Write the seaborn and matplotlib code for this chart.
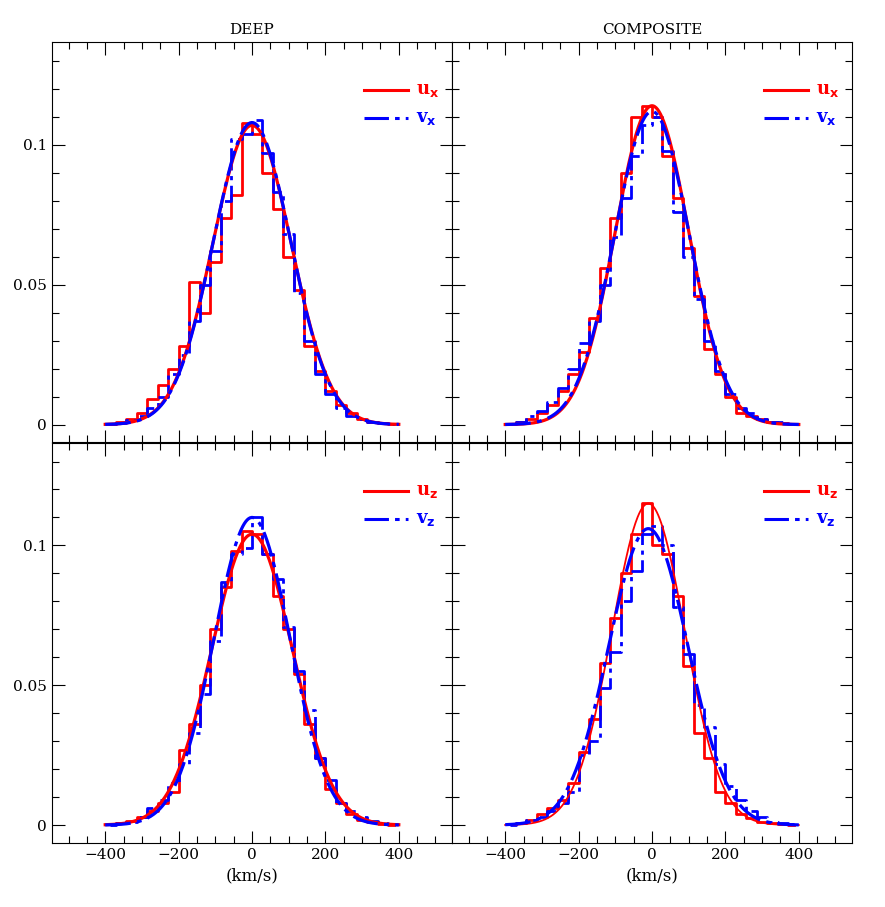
import numpy as np
import seaborn as sns
import matplotlib.pyplot as plt
from matplotlib.ticker import MultipleLocator

# bin centres (km/s), 28 bins between -400 and 400
bin_edges = np.linspace(-400, 400, 29)
centers = 0.5 * (bin_edges[1:] + bin_edges[:-1])
bin_w = bin_edges[1] - bin_edges[0]

deep_ux = [0.0003, 0.0008, 0.002, 0.004, 0.009, 0.014, 0.020, 0.028, 0.051, 0.040, 0.058, 0.074, 0.082, 0.108,
           0.104, 0.090, 0.077, 0.060, 0.048, 0.028, 0.019, 0.012, 0.007, 0.004, 0.002, 0.001, 0.0005, 0.0003]
deep_vx = [0.0002, 0.0005, 0.0015, 0.003, 0.006, 0.010, 0.018, 0.025, 0.037, 0.050, 0.062, 0.080, 0.102, 0.104,
           0.109, 0.097, 0.083, 0.068, 0.047, 0.030, 0.018, 0.011, 0.006, 0.003, 0.002, 0.001, 0.0005, 0.0003]
comp_ux = [0.0003, 0.001, 0.002, 0.004, 0.007, 0.012, 0.018, 0.026, 0.038, 0.056, 0.074, 0.090, 0.110, 0.114,
           0.110, 0.096, 0.081, 0.063, 0.046, 0.027, 0.018, 0.010, 0.004, 0.003, 0.002, 0.001, 0.0005, 0.0003]
comp_vx = [0.0002, 0.0008, 0.003, 0.005, 0.008, 0.013, 0.020, 0.029, 0.037, 0.050, 0.067, 0.081, 0.096, 0.107,
           0.110, 0.098, 0.076, 0.060, 0.045, 0.030, 0.019, 0.011, 0.006, 0.004, 0.002, 0.001, 0.0008, 0.0003]
deep_uz = [0.0003, 0.0008, 0.0015, 0.003, 0.005, 0.008, 0.012, 0.027, 0.036, 0.050, 0.070, 0.085, 0.098, 0.105,
           0.104, 0.097, 0.082, 0.070, 0.054, 0.036, 0.024, 0.013, 0.008, 0.004, 0.002, 0.001, 0.0005, 0.0002]
deep_vz = [0.0002, 0.0006, 0.0012, 0.003, 0.006, 0.009, 0.015, 0.022, 0.033, 0.047, 0.066, 0.087, 0.097, 0.099,
           0.110, 0.097, 0.088, 0.071, 0.055, 0.041, 0.024, 0.016, 0.008, 0.005, 0.003, 0.0015, 0.0006, 0.0003]
comp_uz = [0.0003, 0.0008, 0.002, 0.004, 0.006, 0.009, 0.015, 0.026, 0.038, 0.058, 0.074, 0.090, 0.104, 0.115,
           0.100, 0.097, 0.082, 0.057, 0.033, 0.024, 0.012, 0.008, 0.004, 0.0025, 0.001, 0.0006, 0.0003, 0.0002]
comp_vz = [0.0002, 0.0006, 0.002, 0.003, 0.005, 0.008, 0.012, 0.025, 0.030, 0.049, 0.062, 0.080, 0.091, 0.104,
           0.107, 0.100, 0.078, 0.061, 0.043, 0.035, 0.022, 0.014, 0.009, 0.005, 0.003, 0.001, 0.0006, 0.0003]

# gaussian fit parameters (mean, peak) per histogram
fit_params = {
    "deep_ux": (0, 0.107), "deep_vx": (0, 0.108),
    "comp_ux": (0, 0.114), "comp_vx": (0, 0.112),
    "deep_uz": (0, 0.104), "deep_vz": (0, 0.110),
    "comp_uz": (-10, 0.115), "comp_vz": (-10, 0.106),
}

panels = [
    ("DEEP", "deep_ux", deep_ux, "deep_vx", deep_vx, "x"),
    ("COMPOSITE", "comp_ux", comp_ux, "comp_vx", comp_vx, "x"),
    ("", "deep_uz", deep_uz, "deep_vz", deep_vz, "z"),
    ("", "comp_uz", comp_uz, "comp_vz", comp_vz, "z"),
]

plt.rcParams["font.family"] = "DejaVu Serif"
fig = plt.figure(figsize=(8.85, 9.07), dpi=100)
L, R, T, B = 52 / 885, 852 / 885, 1 - 42 / 907, 1 - 843 / 907
w = (R - L) / 2
h = (T - B) / 2
xs = np.linspace(-400, 400, 400)
dashdot = (0, (8, 2, 1.5, 2))

for i, (title, uk, u, vk, v, comp) in enumerate(panels):
    row, col = divmod(i, 2)
    ax = fig.add_axes([L + col * w, T - (row + 1) * h, w, h])
    sns.lineplot(x=centers, y=u, drawstyle="steps-mid", color="red", lw=2.0, ax=ax)
    sns.lineplot(x=centers, y=v, drawstyle="steps-mid", color="blue", lw=2.0,
                 linestyle=dashdot, ax=ax)
    for key, col_, ls in [(uk, "red", "-"), (vk, "blue", dashdot)]:
        mu, pk = fit_params[key]
        sig = bin_w / (pk * np.sqrt(2 * np.pi))
        lw = 1.3 if key == "comp_uz" else 2.3
        sns.lineplot(x=xs, y=pk * np.exp(-0.5 * ((xs - mu) / sig) ** 2), color=col_,
                     lw=lw, linestyle=ls, ax=ax)
    ax.set_xlim(-545, 545)
    ax.set_ylim(-0.0064, 0.1368)
    ax.xaxis.set_major_locator(MultipleLocator(200))
    ax.xaxis.set_minor_locator(MultipleLocator(50))
    ax.yaxis.set_major_locator(MultipleLocator(0.05))
    ax.yaxis.set_minor_locator(MultipleLocator(0.01))
    ax.tick_params(which="both", direction="in", top=True, right=True, labelsize=11, width=0.8)
    ax.tick_params(which="major", length=9)
    ax.tick_params(which="minor", length=5)
    for s in ax.spines.values():
        s.set_linewidth(0.8)
    ax.set_yticks([0, 0.05, 0.1])
    ax.set_yticklabels(["0", "0.05", "0.1"] if col == 0 else [])
    if row == 0:
        ax.set_xticklabels([])
        ax.set_title(title, fontsize=11)
    else:
        ax.set_xlabel("(km/s)", fontsize=12)
    # legend drawn by hand in axes coordinates
    ax.plot([0.78, 0.89], [0.88, 0.88], transform=ax.transAxes, color="red", lw=2.2)
    ax.plot([0.78, 0.89], [0.81, 0.81], transform=ax.transAxes, color="blue", lw=2.2,
            linestyle=dashdot)
    ax.text(0.91, 0.88, "u$_\\mathbf{" + comp + "}$", transform=ax.transAxes, color="red",
            fontsize=13, va="center", fontweight="bold")
    ax.text(0.91, 0.81, "v$_\\mathbf{" + comp + "}$", transform=ax.transAxes, color="blue",
            fontsize=13, va="center", fontweight="bold")

fig.savefig("out.png", dpi=100)
